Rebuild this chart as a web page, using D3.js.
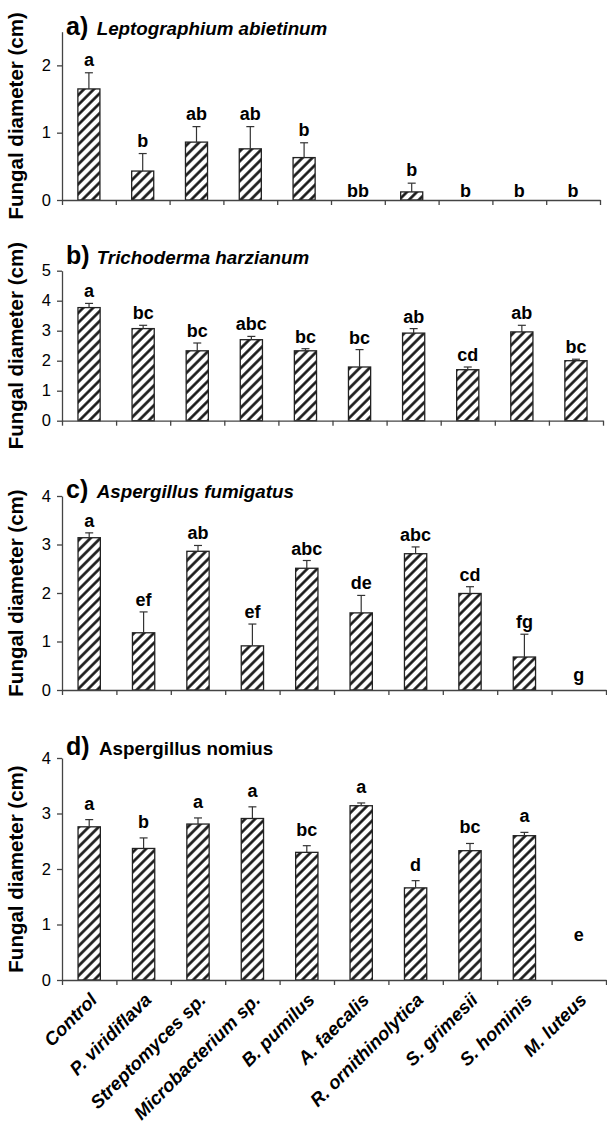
<!DOCTYPE html>
<html><head><meta charset="utf-8">
<script src="https://cdn.jsdelivr.net/npm/d3@7"></script>
<style>
body{margin:0;background:#fff}
svg{display:block}
text{font-family:"Liberation Sans",Arial,Helvetica,sans-serif;fill:#000}
</style>
</head><body>
<svg id="chart" width="607" height="1124"></svg>
<script>
// ---------- DATA ----------
const categories = ["Control","P. viridiflava","Streptomyces sp.","Microbacterium sp.","B. pumilus","A. faecalis","R. ornithinolytica","S. grimesii","S. hominis","M. luteus"];

const meansA   = [1.65,0.43,0.86,0.76,0.63,0,0.12,0,0,0];
const errA     = [0.24,0.26,0.23,0.33,0.22,0,0.13,0,0,0];
const lettersA = ["a","b","ab","ab","b","bb","b","b","b","b"];
const ticksA   = [0,1,2];

const meansB   = [3.77,3.07,2.33,2.70,2.33,1.79,2.92,1.70,2.96,2.00];
const errB     = [0.14,0.11,0.26,0.11,0.07,0.58,0.15,0.09,0.22,0.05];
const lettersB = ["a","bc","bc","abc","bc","bc","ab","cd","ab","bc"];
const ticksB   = [0,1,2,3,4,5];

const meansC   = [3.14,1.18,2.86,0.91,2.51,1.59,2.81,1.99,0.68,0];
const errC     = [0.10,0.43,0.12,0.45,0.16,0.36,0.14,0.14,0.47,0];
const lettersC = ["a","ef","ab","ef","abc","de","abc","cd","fg","g"];
const ticksC   = [0,1,2,3,4];

const meansD   = [2.76,2.37,2.81,2.91,2.30,3.14,1.66,2.33,2.60,0];
const errD     = [0.13,0.19,0.11,0.21,0.12,0.05,0.13,0.13,0.06,0];
const lettersD = ["a","b","a","a","bc","a","d","bc","a","e"];
const ticksD   = [0,1,2,3,4];

const panelLetters = ["a)","b)","c)","d)"];
const fungi = ["Leptographium abietinum","Trichoderma harzianum","Aspergillus fumigatus","Aspergillus nomius"];
const yMax = [2.5,5,4,4];
const yLabel = "Fungal diameter (cm)";

// ---------- LAYOUT / STYLE ----------
const layout = [
  {bottom:200,   top:31.7, right:600, titleY:35,  italic:true,  gap:7,  emptyLift:3},
  {bottom:420.7, top:270.7,right:603, titleY:264, italic:true,  gap:6,  emptyLift:3},
  {bottom:690,   top:496,  right:606, titleY:498, italic:true,  gap:6,  emptyLift:9},
  {bottom:980,   top:758,  right:606, titleY:755, italic:false, gap:10, emptyLift:39}
];
const left = 62;
const panelsData = [
  {means:meansA, err:errA, letters:lettersA, ticks:ticksA},
  {means:meansB, err:errB, letters:lettersB, ticks:ticksB},
  {means:meansC, err:errC, letters:lettersC, ticks:ticksC},
  {means:meansD, err:errD, letters:lettersD, ticks:ticksD}
];

const svg = d3.select("#chart");
const defs = svg.append("defs");
const pat = defs.append("pattern")
  .attr("id","hatch").attr("patternUnits","userSpaceOnUse")
  .attr("width",7).attr("height",7)
  .attr("patternTransform","rotate(45)");
pat.append("rect").attr("width",7).attr("height",7).attr("fill","#fff");
pat.append("line").attr("x1",3.5).attr("y1",0).attr("x2",3.5).attr("y2",7)
  .attr("stroke","#111").attr("stroke-width",2.6);

panelsData.forEach((pd, pi) => {
  const L = layout[pi];
  const g = svg.append("g");
  const x = d3.scaleBand().domain(categories).range([left, L.right])
    .paddingInner(0.59).paddingOuter(0.295);
  const y = d3.scaleLinear().domain([0, yMax[pi]]).range([L.bottom, L.top]);
  const bounds = d3.scaleLinear().domain([0, categories.length]).range([left, L.right]);
  const cx = i => x(categories[i]) + x.bandwidth()/2;

  // bars
  g.selectAll("rect.bar").data(pd.means).join("rect")
    .attr("class","bar")
    .attr("x",(d,i)=>x(categories[i]))
    .attr("width",x.bandwidth())
    .attr("y",d=>y(d))
    .attr("height",d=>y(0)-y(d))
    .attr("fill","url(#hatch)")
    .attr("stroke",d=>d>0?"#222":"none")
    .attr("stroke-width",1.3);

  // error bars (upper only)
  const idx = d3.range(pd.means.length).filter(i=>pd.err[i]>0);
  const eb = g.selectAll("g.err").data(idx).join("g").attr("class","err");
  eb.append("line")
    .attr("x1",i=>cx(i)).attr("x2",i=>cx(i))
    .attr("y1",i=>y(pd.means[i])).attr("y2",i=>y(pd.means[i]+pd.err[i]))
    .attr("stroke","#333").attr("stroke-width",1.2);
  eb.append("line")
    .attr("x1",i=>cx(i)-4).attr("x2",i=>cx(i)+4)
    .attr("y1",i=>y(pd.means[i]+pd.err[i])).attr("y2",i=>y(pd.means[i]+pd.err[i]))
    .attr("stroke","#333").attr("stroke-width",1.2);

  // significance letters
  g.selectAll("text.sig").data(pd.letters).join("text")
    .attr("class","sig")
    .attr("x",(d,i)=>cx(i))
    .attr("y",(d,i)=>{
      const top = pd.means[i]+pd.err[i];
      return top>0 ? y(top)-L.gap : y(0)-L.emptyLift;
    })
    .attr("text-anchor","middle")
    .style("font-size","18px").style("font-weight","bold")
    .text(d=>d);

  // y axis
  const ya = g.append("g").attr("transform",`translate(${left},0)`)
    .call(d3.axisLeft(y).tickValues(pd.ticks).tickFormat(d3.format("d"))
      .tickSize(5).tickSizeOuter(0).tickPadding(6));
  ya.select(".domain").attr("stroke","#444").attr("stroke-width",1.3);
  ya.selectAll(".tick line").attr("stroke","#444").attr("stroke-width",1.3);
  ya.selectAll(".tick text").style("font-size","16.5px").style("font-family",'"Liberation Sans",Arial,sans-serif').attr("fill","#000");

  // x axis (ticks at category boundaries)
  const xa = g.append("g").attr("transform",`translate(0,${L.bottom})`)
    .call(d3.axisBottom(bounds).ticks(categories.length).tickFormat("")
      .tickSize(5).tickSizeOuter(0));
  xa.select(".domain").attr("stroke","#444").attr("stroke-width",1.3);
  xa.selectAll(".tick line").attr("stroke","#444").attr("stroke-width",1.3);

  // y label
  g.append("text")
    .attr("transform",`translate(23,${(L.top+L.bottom)/2}) rotate(-90)`)
    .attr("text-anchor","middle")
    .style("font-size","20.5px").style("font-weight","bold")
    .text(yLabel);

  // title
  g.append("text").attr("x",66).attr("y",L.titleY)
    .style("font-size","25px").style("font-weight","bold")
    .text(panelLetters[pi]);
  g.append("text").attr("x",L.italic?96.7:99).attr("y",L.titleY)
    .style("font-size","18.8px").style("font-weight","bold")
    .style("font-style",L.italic?"italic":"normal")
    .text(fungi[pi]);

  // category labels on bottom panel
  if(pi===3){
    g.selectAll("text.cat").data(categories).join("text")
      .attr("class","cat")
      .attr("transform",(d,i)=>`translate(${cx(i)+9},${L.bottom+21}) rotate(-45)`)
      .attr("text-anchor","end")
      .style("font-size","18.5px").style("font-weight","bold").style("font-style","italic")
      .text(d=>d);
  }
});
</script>
</body></html>
